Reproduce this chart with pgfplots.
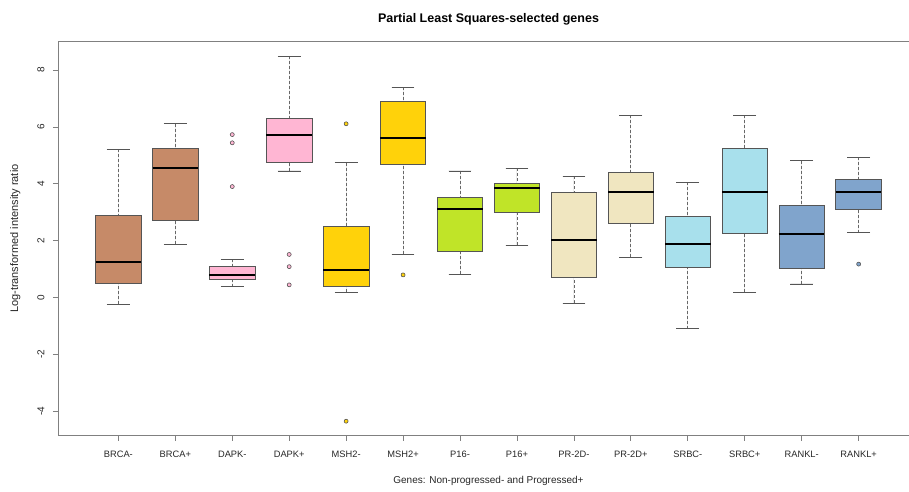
\documentclass[border=0pt]{standalone}
\usepackage{fontspec}
\setmainfont{Liberation Sans}
\usepackage{pgfplots}
\pgfplotsset{compat=1.18}
\usepgfplotslibrary{statistics}
\definecolor{cBRCA}{HTML}{C68A68}
\definecolor{cDAPK}{HTML}{FFB6D3}
\definecolor{cMSH}{HTML}{FFD20A}
\definecolor{cPsix}{HTML}{C0E428}
\definecolor{cPR}{HTML}{F0E6C0}
\definecolor{cSRBC}{HTML}{A8E0EC}
\definecolor{cRANKL}{HTML}{80A4CC}
\definecolor{bord}{HTML}{555555}
\definecolor{axg}{HTML}{808080}
\begin{document}
\begin{tikzpicture}
\begin{axis}[
  scale only axis,
  width=861pt, height=394pt,
  xmin=-0.06, xmax=15.06,
  ymin=-4.87, ymax=9.00,
  axis line style={axg, line width=0.9pt},
  tick style={axg, line width=0.8pt},
  tick align=outside,
  major tick length=5pt,
  xtick pos=bottom, ytick pos=left,
  xtick={1,...,14},
  xticklabels={BRCA-,BRCA+,DAPK-,DAPK+,MSH2-,MSH2+,P16-,P16+,PR-2D-,PR-2D+,SRBC-,SRBC+,RANKL-,RANKL+},
  ytick={-4,-2,0,2,4,6,8},
  yticklabels={-4,-2,0,2,4,6,8},
  yticklabel style={xshift=-5pt, rotate=90, anchor=south, font=\fontsize{10}{10}\selectfont, text=black!85},
  xticklabel style={font=\fontsize{9.3}{10}\selectfont, text=black!85, yshift=-7pt},
  xlabel={Genes: Non-progressed- and Progressed+},
  xlabel style={font=\fontsize{10}{10}\selectfont, text=black!85, yshift=-12pt},
  ylabel={Log-transformed intensity ratio},
  ylabel style={font=\fontsize{11}{11}\selectfont, text=black!85, yshift=10pt},
  title={\bfseries Partial Least Squares-selected genes},
  title style={font=\fontsize{12.5}{13}\selectfont, yshift=7pt},
  boxplot/draw direction=y,
  boxplot/box extend=0.8,
  boxplot/whisker extend=0.4,
  boxplot/every median/.style={line width=2pt, black},
  boxplot/every box/.style={draw=bord, line width=0.8pt},
  boxplot/draw/lower whisker/.code={%
    \draw[axg!80!black, line width=0.8pt, dash pattern=on 3pt off 2pt]
      (boxplot cs:\pgfplotsboxplotvalue{lower whisker}) -- (boxplot cs:\pgfplotsboxplotvalue{lower quartile});
    \draw[bord, line width=0.8pt]
      (boxplot whisker cs:\pgfplotsboxplotvalue{lower whisker},0) -- (boxplot whisker cs:\pgfplotsboxplotvalue{lower whisker},1);
  },
  boxplot/draw/upper whisker/.code={%
    \draw[axg!80!black, line width=0.8pt, dash pattern=on 3pt off 2pt]
      (boxplot cs:\pgfplotsboxplotvalue{upper whisker}) -- (boxplot cs:\pgfplotsboxplotvalue{upper quartile});
    \draw[bord, line width=0.8pt]
      (boxplot whisker cs:\pgfplotsboxplotvalue{upper whisker},0) -- (boxplot whisker cs:\pgfplotsboxplotvalue{upper whisker},1);
  },
]
\coordinate (SW) at (rel axis cs:0,0);
\coordinate (NW) at (rel axis cs:0,1);

% BRCA-
\addplot[boxplot prepared={draw position=1, lower whisker=-0.25, lower quartile=0.49, median=1.23, upper quartile=2.87, upper whisker=5.22}, fill=cBRCA, draw=bord]
  table[row sep=\\, y index=0] {y\\};
% BRCA+
\addplot[boxplot prepared={draw position=2, lower whisker=1.87, lower quartile=2.71, median=4.56, upper quartile=5.23, upper whisker=6.11}, fill=cBRCA, draw=bord]
  table[row sep=\\, y index=0] {y\\};
% DAPK-
\addplot[boxplot prepared={draw position=3, lower whisker=0.37, lower quartile=0.64, median=0.77, upper quartile=1.10, upper whisker=1.35}, fill=cDAPK, draw=bord, mark=*, mark size=2pt, mark options={fill=cDAPK, draw=bord, line width=0.6pt}]
  table[row sep=\\, y index=0] {y\\5.73\\5.44\\3.90\\};
% DAPK+
\addplot[boxplot prepared={draw position=4, lower whisker=4.45, lower quartile=4.74, median=5.73, upper quartile=6.29, upper whisker=8.49}, fill=cDAPK, draw=bord, mark=*, mark size=2pt, mark options={fill=cDAPK, draw=bord, line width=0.6pt}]
  table[row sep=\\, y index=0] {y\\1.51\\1.08\\0.44\\};
% MSH2-
\addplot[boxplot prepared={draw position=5, lower whisker=0.18, lower quartile=0.39, median=0.95, upper quartile=2.50, upper whisker=4.74}, fill=cMSH, draw=bord, mark=*, mark size=2pt, mark options={fill=cMSH, draw=bord, line width=0.6pt}]
  table[row sep=\\, y index=0] {y\\6.11\\-4.36\\};
% MSH2+
\addplot[boxplot prepared={draw position=6, lower whisker=1.52, lower quartile=4.68, median=5.61, upper quartile=6.89, upper whisker=7.39}, fill=cMSH, draw=bord, mark=*, mark size=2pt, mark options={fill=cMSH, draw=bord, line width=0.6pt}]
  table[row sep=\\, y index=0] {y\\0.79\\};
% P16-
\addplot[boxplot prepared={draw position=7, lower whisker=0.81, lower quartile=1.63, median=3.12, upper quartile=3.53, upper whisker=4.45}, fill=cPsix, draw=bord]
  table[row sep=\\, y index=0] {y\\};
% P16+
\addplot[boxplot prepared={draw position=8, lower whisker=1.84, lower quartile=2.98, median=3.86, upper quartile=4.02, upper whisker=4.54}, fill=cPsix, draw=bord]
  table[row sep=\\, y index=0] {y\\};
% PR-2D-
\addplot[boxplot prepared={draw position=9, lower whisker=-0.20, lower quartile=0.71, median=2.01, upper quartile=3.68, upper whisker=4.26}, fill=cPR, draw=bord]
  table[row sep=\\, y index=0] {y\\};
% PR-2D+
\addplot[boxplot prepared={draw position=10, lower whisker=1.42, lower quartile=2.59, median=3.71, upper quartile=4.41, upper whisker=6.41}, fill=cPR, draw=bord]
  table[row sep=\\, y index=0] {y\\};
% SRBC-
\addplot[boxplot prepared={draw position=11, lower whisker=-1.10, lower quartile=1.06, median=1.87, upper quartile=2.84, upper whisker=4.06}, fill=cSRBC, draw=bord]
  table[row sep=\\, y index=0] {y\\};
% SRBC+
\addplot[boxplot prepared={draw position=12, lower whisker=0.18, lower quartile=2.25, median=3.70, upper quartile=5.26, upper whisker=6.41}, fill=cSRBC, draw=bord]
  table[row sep=\\, y index=0] {y\\};
% RANKL-
\addplot[boxplot prepared={draw position=13, lower whisker=0.47, lower quartile=1.03, median=2.24, upper quartile=3.23, upper whisker=4.81}, fill=cRANKL, draw=bord]
  table[row sep=\\, y index=0] {y\\};
% RANKL+
\addplot[boxplot prepared={draw position=14, lower whisker=2.27, lower quartile=3.09, median=3.72, upper quartile=4.15, upper whisker=4.94}, fill=cRANKL, draw=bord, mark=*, mark size=2pt, mark options={fill=cRANKL, draw=bord, line width=0.6pt}]
  table[row sep=\\, y index=0] {y\\1.17\\};
\end{axis}
\pgfresetboundingbox
\path[use as bounding box] ([shift={(-58pt,-55.5pt)}]SW) rectangle ([shift={(851pt,41.7pt)}]NW);
\end{tikzpicture}
\end{document}
